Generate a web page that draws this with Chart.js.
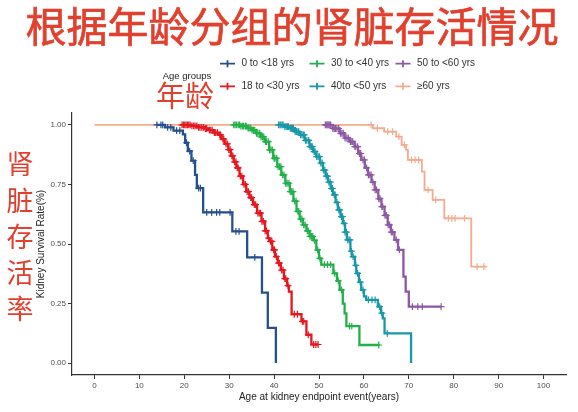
<!DOCTYPE html>
<html>
<head>
<meta charset="utf-8">
<script src="https://cdn.jsdelivr.net/npm/chart.js@4.4.1/dist/chart.umd.min.js"></script>
<style>
  html, body { margin: 0; padding: 0; background: #fff; }
  #wrap { width: 578px; height: 412px; position: relative; }
</style>
</head>
<body>
<div id="wrap"><canvas id="km" width="578" height="412"></canvas></div>
<script>
"use strict";

// ---- data ----
const groupNames = ["0 to <18 yrs", "18 to <30 yrs", "30 to <40 yrs", "40to <50 yrs", "50 to <60 yrs", "\u226560 yrs"];
const groupColors = ["#24508e", "#e5171f", "#22b04a", "#1898a8", "#8d58a4", "#f4ab8e"];

// step times (years) and survival after each step, plus censored times
const timesG1 = [13.9, 15.7, 17.6, 19.7, 20.2, 20.8, 21.6, 22.4, 22.8, 24.2, 30.7, 34.0, 37.3, 38.6, 40.4];
const survG1  = [1.0, 0.99, 0.976, 0.96, 0.925, 0.89, 0.85, 0.79, 0.735, 0.633, 0.553, 0.444, 0.296, 0.148, 0.0];
const censG1  = [13.9, 14.8, 15.2, 16.3, 17.0, 18.3, 19.0, 20.5, 21.2, 22.0, 23.2, 23.6, 25.0, 26.1, 27.2, 27.9, 30.2, 31.5, 32.2, 35.7];

const timesG2 = [19.4, 21.5, 23.0, 24.5, 25.3, 26.5, 27.6, 28.3, 29.0, 29.8, 30.4, 31.0, 31.6, 32.3, 33.1, 33.8, 34.5, 35.3, 36.2, 37.2, 38.0, 38.6, 39.0, 39.6, 40.2, 40.8, 41.5, 42.2, 42.9, 43.3, 43.9, 46.1, 47.2, 48.3, 49.8];
const survG2  = [1.0, 0.996, 0.99, 0.985, 0.978, 0.968, 0.958, 0.94, 0.92, 0.896, 0.87, 0.845, 0.82, 0.785, 0.75, 0.72, 0.695, 0.665, 0.63, 0.595, 0.555, 0.525, 0.511, 0.475, 0.447, 0.42, 0.39, 0.355, 0.325, 0.3, 0.205, 0.175, 0.119, 0.078, 0.078];
const censG2  = [19.5, 19.8, 20.1, 20.4, 20.7, 21.0, 21.3, 21.7, 22.1, 22.4, 22.8, 23.2, 23.5, 23.9, 24.3, 24.7, 25.0, 25.6, 25.9, 26.2, 26.7, 27.0, 27.4, 27.9, 28.1, 28.6, 28.8, 29.3, 29.6, 29.9, 30.2, 30.6, 30.8, 31.2, 31.5, 31.8, 32.0, 32.5, 32.8, 33.3, 33.6, 34.0, 34.3, 34.8, 35.0, 35.6, 35.9, 36.4, 36.7, 37.0, 37.3, 37.6, 38.0, 38.3, 38.8, 39.2, 39.5, 39.9, 40.1, 40.5, 41.0, 41.2, 41.7, 42.0, 42.4, 42.6, 43.1, 44.5, 45.2, 46.3, 46.6, 47.6, 48.8, 49.3, 49.8];

const timesG3 = [30.9, 32.5, 34.0, 35.0, 36.0, 37.0, 37.9, 38.9, 39.8, 40.7, 41.6, 42.5, 43.5, 44.3, 45.0, 45.7, 46.4, 47.2, 47.9, 48.8, 49.4, 50.0, 50.5, 53.2, 54.0, 54.6, 55.3, 55.7, 56.1, 59.0, 63.5];
const survG3  = [1.0, 0.995, 0.987, 0.978, 0.965, 0.95, 0.93, 0.895, 0.86, 0.825, 0.79, 0.755, 0.72, 0.68, 0.637, 0.605, 0.58, 0.555, 0.532, 0.515, 0.475, 0.44, 0.413, 0.377, 0.345, 0.307, 0.25, 0.209, 0.155, 0.076, 0.076];
const censG3  = [31.0, 31.3, 31.6, 32.0, 32.3, 32.6, 33.0, 33.2, 33.6, 33.8, 34.2, 34.4, 34.8, 35.1, 35.4, 35.7, 36.1, 36.4, 36.8, 37.1, 37.4, 37.7, 38.1, 38.3, 38.7, 39.0, 39.3, 39.6, 40.0, 40.2, 40.6, 40.9, 41.2, 41.5, 41.9, 42.2, 42.6, 42.9, 43.3, 43.6, 43.9, 44.2, 44.6, 44.9, 45.3, 45.5, 45.9, 46.2, 46.6, 46.9, 47.4, 47.6, 48.0, 48.3, 48.6, 49.0, 49.7, 50.2, 51.2, 51.9, 52.6, 53.5, 54.3, 55.0, 56.8, 57.3, 63.3];

const timesG4 = [40.9, 42.3, 43.5, 44.6, 45.7, 46.8, 47.9, 48.7, 49.4, 50.2, 50.9, 51.5, 52.0, 52.6, 53.1, 53.7, 54.2, 54.8, 55.3, 55.8, 56.2, 57.0, 57.3, 58.0, 58.3, 58.9, 59.4, 60.0, 60.5, 63.1, 63.8, 64.2, 64.6, 70.5];
const survG4  = [1.0, 0.993, 0.986, 0.972, 0.958, 0.935, 0.909, 0.888, 0.867, 0.84, 0.81, 0.785, 0.76, 0.733, 0.706, 0.675, 0.643, 0.615, 0.587, 0.55, 0.517, 0.47, 0.447, 0.41, 0.377, 0.34, 0.307, 0.28, 0.265, 0.237, 0.21, 0.188, 0.125, 0.0];
const censG4  = [41.0, 41.3, 41.5, 41.8, 42.0, 42.4, 42.7, 43.0, 43.2, 43.6, 43.9, 44.1, 44.3, 44.7, 45.0, 45.3, 45.5, 45.9, 46.2, 46.5, 46.7, 47.0, 47.3, 47.7, 48.0, 48.3, 48.5, 48.9, 49.1, 49.5, 49.8, 50.1, 50.4, 50.7, 51.0, 51.3, 51.6, 51.9, 52.2, 52.5, 52.8, 53.0, 53.4, 53.6, 54.0, 54.4, 54.6, 55.0, 55.2, 55.6, 55.8, 56.1, 56.4, 56.7, 56.9, 57.2, 57.6, 58.2, 58.6, 59.2, 59.8, 61.0, 61.8, 62.5, 63.5, 64.0, 65.2];

const timesG5 = [51.3, 53.0, 54.6, 55.7, 56.8, 57.9, 58.7, 59.4, 60.2, 60.9, 61.7, 62.4, 63.2, 63.9, 64.6, 65.3, 66.0, 66.8, 67.6, 68.8, 69.3, 70.0, 77.2];
const survG5  = [1.0, 0.985, 0.965, 0.945, 0.93, 0.909, 0.88, 0.853, 0.82, 0.79, 0.76, 0.727, 0.69, 0.657, 0.62, 0.58, 0.55, 0.517, 0.475, 0.363, 0.3, 0.237, 0.237];
const censG5  = [51.4, 51.6, 51.8, 52.0, 52.2, 52.4, 52.6, 53.1, 53.4, 53.7, 54.0, 54.4, 54.8, 55.1, 55.4, 55.8, 56.2, 56.5, 57.0, 57.3, 57.5, 58.0, 58.2, 58.6, 59.0, 59.3, 59.8, 60.1, 60.6, 61.0, 61.3, 61.6, 62.0, 62.5, 62.8, 63.3, 63.6, 64.0, 64.2, 64.7, 65.0, 65.4, 65.7, 66.1, 66.4, 67.2, 67.9, 70.8, 72.0, 73.0, 77.2];

const timesG6 = [0.0, 62.0, 64.5, 67.2, 68.4, 69.4, 69.8, 72.9, 73.5, 75.3, 77.9, 83.9, 87.2];
const survG6  = [1.0, 0.986, 0.972, 0.951, 0.916, 0.895, 0.853, 0.804, 0.727, 0.685, 0.608, 0.405, 0.405];
const censG6  = [61.6, 63.0, 65.3, 66.4, 67.8, 69.0, 70.6, 71.4, 72.2, 74.3, 76.0, 78.8, 79.6, 80.3, 82.4, 85.2, 86.7];

const xTickValues = [0, 10, 20, 30, 40, 50, 60, 70, 80, 90, 100];
const yTickValues = [0, 0.25, 0.5, 0.75, 1.0];

const groups = [
  { times: timesG1, surv: survG1, cens: censG1 },
  { times: timesG2, surv: survG2, cens: censG2 },
  { times: timesG3, surv: survG3, cens: censG3 },
  { times: timesG4, surv: survG4, cens: censG4 },
  { times: timesG5, surv: survG5, cens: censG5 },
  { times: timesG6, surv: survG6, cens: censG6 }
];

// survival of the step curve at time t
function survAt(g, t) {
  let s = g.surv[0];
  for (let i = 0; i < g.times.length; i++) {
    if (g.times[i] <= t) s = g.surv[i];
  }
  return s;
}

const datasets = [];
groups.forEach((g, i) => {
  datasets.push({
    label: groupNames[i],
    data: g.times.map((t, j) => ({ x: t, y: g.surv[j] })),
    showLine: true,
    stepped: true,
    borderColor: groupColors[i],
    borderWidth: i === 5 ? 1.8 : 2.3,
    pointRadius: 0,
    order: 10 + i * 2
  });
  datasets.push({
    label: groupNames[i] + " censored",
    data: g.cens.map(t => ({ x: t, y: survAt(g, t) })),
    showLine: false,
    pointStyle: "cross",
    pointRadius: 3.4,
    pointBorderWidth: 1.2,
    borderColor: groupColors[i],
    backgroundColor: groupColors[i],
    order: 9 + i * 2
  });
});

const FONT_EN = "'Liberation Sans', Arial, sans-serif";
const FONT_CJK = "'Noto Sans CJK SC', sans-serif";
const RED = "#e2402e";

const decorations = {
  id: "decorations",
  afterDraw(chart) {
    const ctx = chart.ctx;
    ctx.save();
    ctx.textAlign = "center";
    ctx.textBaseline = "middle";

    // big title
    ctx.fillStyle = RED;
    ctx.strokeStyle = RED;
    ctx.lineWidth = 0.7;
    ctx.font = "41px " + FONT_CJK;
    const title = "\u6839\u636e\u5e74\u9f84\u5206\u7ec4\u7684\u80be\u810f\u5b58\u6d3b\u60c5\u51b5";
    ctx.fillText(title, 292, 26);
    ctx.strokeText(title, 292, 26);

    // vertical chinese y label
    ctx.font = "27px " + FONT_CJK;
    const sideChars = ["\u80be", "\u810f", "\u5b58", "\u6d3b", "\u7387"];
    sideChars.forEach((c, i) => ctx.fillText(c, 20, 164 + i * 36.3));

    // legend caption
    ctx.font = "29px " + FONT_CJK;
    ctx.fillText("\u5e74\u9f84", 185, 96);
    ctx.fillStyle = "#222";
    ctx.font = "9.5px " + FONT_EN;
    ctx.fillText("Age groups", 187, 76);

    // y axis title
    ctx.save();
    ctx.translate(41, 244);
    ctx.rotate(-Math.PI / 2);
    ctx.font = "10px " + FONT_EN;
    ctx.fillText("Kidney Survival Rate(%)", 0, 0);
    ctx.restore();

    // x axis title
    const area = chart.chartArea;
    ctx.font = "10px " + FONT_EN;
    ctx.fillText("Age at kidney endpoint event(years)", (area.left + area.right) / 2, 397);

    // legend, filled column by column
    const colX = [227.5, 317, 403];
    const rowY = [63.7, 86.3];
    ctx.textAlign = "left";
    groupNames.forEach((name, i) => {
      const cx = colX[Math.floor(i / 2)];
      const cy = rowY[i % 2];
      ctx.strokeStyle = groupColors[i];
      ctx.lineWidth = 1.8;
      ctx.beginPath();
      ctx.moveTo(cx - 7.5, cy);
      ctx.lineTo(cx + 7.5, cy);
      ctx.moveTo(cx, cy - 3.5);
      ctx.lineTo(cx, cy + 3.5);
      ctx.stroke();
      ctx.fillStyle = "#333";
      ctx.font = "10px " + FONT_EN;
      ctx.fillText(name, cx + 14, cy);
    });
    ctx.restore();
  }
};

new Chart(document.getElementById("km"), {
  type: "scatter",
  data: { datasets: datasets },
  options: {
    responsive: false,
    animation: false,
    devicePixelRatio: 1,
    layout: { padding: { left: 0, right: 12, top: 113, bottom: 0 } },
    plugins: {
      legend: { display: false },
      tooltip: { enabled: false }
    },
    scales: {
      x: {
        type: "linear",
        min: -5,
        max: 105,
        afterBuildTicks: s => { s.ticks = xTickValues.map(v => ({ value: v })); },
        afterFit: s => { s.height = 37; },
        grid: { drawOnChartArea: false, drawTicks: true, tickLength: 4, tickColor: "#333" },
        border: { display: true, color: "#333", width: 1.2 },
        ticks: { color: "#4d4d4d", font: { size: 8, family: FONT_EN }, padding: 2, maxRotation: 0 }
      },
      y: {
        type: "linear",
        min: -0.05,
        max: 1.05,
        afterBuildTicks: s => { s.ticks = yTickValues.map(v => ({ value: v })); },
        afterFit: s => { s.width = 72; },
        grid: { drawOnChartArea: false, drawTicks: true, tickLength: 4, tickColor: "#333" },
        border: { display: true, color: "#333", width: 1.2 },
        ticks: {
          color: "#4d4d4d",
          font: { size: 8, family: FONT_EN },
          padding: 2,
          callback: v => Number(v).toFixed(2)
        }
      }
    }
  },
  plugins: [decorations]
});
</script>
</body>
</html>
